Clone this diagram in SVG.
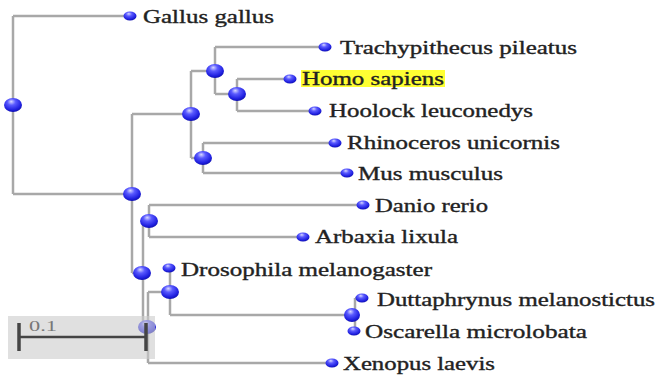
<svg xmlns="http://www.w3.org/2000/svg" width="658" height="377" viewBox="0 0 658 377">
<style>
.br{fill:none;stroke:#a8a8a8;stroke-width:2.5}
.lbl{font-family:"Liberation Serif","Times New Roman",serif;font-size:18px;fill:#222;stroke:#222;stroke-width:0.35}
.in{fill:url(#ball)}
.lf{fill:url(#ball)}
</style>
<defs>
<radialGradient id="ball" cx="0.45" cy="0.35" r="0.65" fx="0.4" fy="0.25">
<stop offset="0" stop-color="#d8d8ff"/>
<stop offset="0.35" stop-color="#5a5aff"/>
<stop offset="0.8" stop-color="#2020e0"/>
<stop offset="1" stop-color="#1010b0"/>
</radialGradient>
</defs>
<rect width="658" height="377" fill="#fff"/>
<g id="connectors" class="br">
<path d="M13,16V194"/>
<path d="M13,16H130"/>
<path d="M13,194H132"/>
<path d="M132,114V273"/>
<path d="M132,114H191"/>
<path d="M191,71V158"/>
<path d="M191,71H215"/>
<path d="M215,47V94"/>
<path d="M215,47H325"/>
<path d="M215,94H237"/>
<path d="M237,79V111"/>
<path d="M237,79H290"/>
<path d="M237,111H315"/>
<path d="M191,158H203"/>
<path d="M203,143V173"/>
<path d="M203,143H335"/>
<path d="M203,173H347"/>
<path d="M132,273H143"/>
<path d="M143,221V327"/>
<path d="M143,221H149"/>
<path d="M149,205V237"/>
<path d="M149,205H363"/>
<path d="M149,237H303"/>
<path d="M143,327H148"/>
<path d="M148,292V363"/>
<path d="M148,292H170"/>
<path d="M170,268V315"/>
<path d="M170,315H352"/>
<path d="M355,298V331"/>
<path d="M355,298H362"/>
<path d="M148,363H332"/>
</g>
<g id="root"><ellipse class="in" cx="13" cy="105" rx="9" ry="7"/></g>
<g id="nodeA"><ellipse class="in" cx="132" cy="194" rx="9" ry="7"/></g>
<g id="nodeB"><ellipse class="in" cx="191" cy="114" rx="9" ry="7"/></g>
<g id="nodeC"><ellipse class="in" cx="215" cy="71" rx="9" ry="7"/></g>
<g id="nodeD"><ellipse class="in" cx="237" cy="94" rx="9" ry="7"/></g>
<g id="nodeE"><ellipse class="in" cx="203" cy="158" rx="9" ry="7"/></g>
<g id="nodeG"><ellipse class="in" cx="142" cy="273" rx="9" ry="7"/></g>
<g id="nodeF"><ellipse class="in" cx="149" cy="221" rx="9" ry="7"/></g>
<g id="nodeH"><ellipse class="in" cx="147" cy="327" rx="9" ry="7"/></g>
<g id="nodeI"><ellipse class="in" cx="170" cy="292" rx="9" ry="7"/></g>
<g id="nodeJ"><ellipse class="in" cx="352" cy="315" rx="8" ry="7"/></g>
<g id="gallus"><ellipse class="lf" cx="130" cy="16" rx="6.5" ry="4.5"/><text class="lbl" x="143" y="23" textLength="131" lengthAdjust="spacingAndGlyphs">Gallus gallus</text></g>
<g id="trachypithecus"><ellipse class="lf" cx="325" cy="47" rx="6.5" ry="4.5"/><text class="lbl" x="340" y="54" textLength="237" lengthAdjust="spacingAndGlyphs">Trachypithecus pileatus</text></g>
<g id="homo"><ellipse class="lf" cx="290" cy="79" rx="6.5" ry="4.5"/><rect x="301" y="70" width="144" height="17" fill="#ffff33"/><text class="lbl" x="302" y="85" textLength="142" lengthAdjust="spacingAndGlyphs">Homo sapiens</text></g>
<g id="hoolock"><ellipse class="lf" cx="315" cy="111" rx="6.5" ry="4.5"/><text class="lbl" x="329" y="117" textLength="204" lengthAdjust="spacingAndGlyphs">Hoolock leuconedys</text></g>
<g id="rhinoceros"><ellipse class="lf" cx="335" cy="143" rx="6.5" ry="4.5"/><text class="lbl" x="347" y="149" textLength="213" lengthAdjust="spacingAndGlyphs">Rhinoceros unicornis</text></g>
<g id="mus"><ellipse class="lf" cx="347" cy="173" rx="6.5" ry="4.5"/><text class="lbl" x="358" y="180" textLength="145" lengthAdjust="spacingAndGlyphs">Mus musculus</text></g>
<g id="danio"><ellipse class="lf" cx="363" cy="205" rx="6.5" ry="4.5"/><text class="lbl" x="375" y="212" textLength="113" lengthAdjust="spacingAndGlyphs">Danio rerio</text></g>
<g id="arbaxia"><ellipse class="lf" cx="303" cy="237" rx="6.5" ry="4.5"/><text class="lbl" x="315" y="243" textLength="143" lengthAdjust="spacingAndGlyphs">Arbaxia lixula</text></g>
<g id="drosophila"><ellipse class="lf" cx="169" cy="268" rx="6.5" ry="4.5"/><text class="lbl" x="181" y="276" textLength="251" lengthAdjust="spacingAndGlyphs">Drosophila melanogaster</text></g>
<g id="duttaphrynus"><ellipse class="lf" cx="362" cy="298" rx="6.5" ry="4.5"/><text class="lbl" x="377" y="306" textLength="278" lengthAdjust="spacingAndGlyphs">Duttaphrynus melanostictus</text></g>
<g id="oscarella"><ellipse class="lf" cx="354" cy="331" rx="6.5" ry="4.5"/><text class="lbl" x="365" y="338" textLength="222" lengthAdjust="spacingAndGlyphs">Oscarella microlobata</text></g>
<g id="xenopus"><ellipse class="lf" cx="332" cy="363" rx="6.5" ry="4.5"/><text class="lbl" x="343" y="370" textLength="152" lengthAdjust="spacingAndGlyphs">Xenopus laevis</text></g>
<g id="scale">
<rect x="8" y="316" width="147" height="43" fill="#cccccc" fill-opacity="0.6"/>
<path d="M18,337H146" stroke="#444" stroke-width="2.5" fill="none"/>
<path d="M19,323V351M146,323V351" stroke="#444" stroke-width="3.5" fill="none"/>
<text x="29" y="331" font-family="'Liberation Serif','Times New Roman',serif" font-size="14" fill="#777" textLength="28" lengthAdjust="spacingAndGlyphs">0.1</text>
</g>
</svg>
